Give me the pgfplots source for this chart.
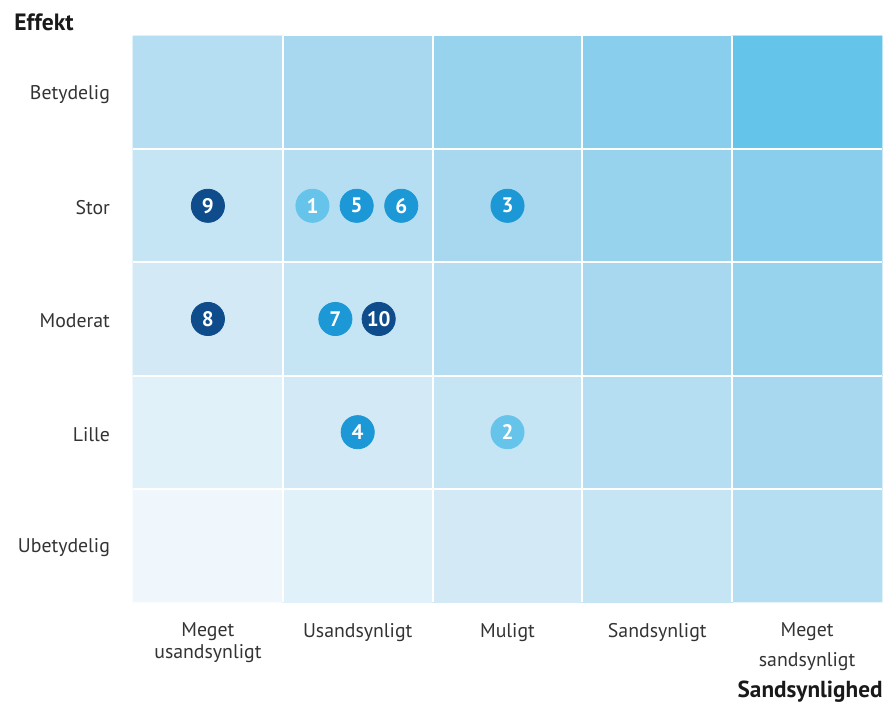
\documentclass[border=0pt]{standalone}
\usepackage{fontspec}
\setmainfont{PT Sans}
\usepackage{pgfplots}
\pgfplotsset{compat=1.18}
\usetikzlibrary{calc}
\definecolor{navy}{HTML}{0F4C8C}
\definecolor{midblue}{HTML}{1B98D5}
\definecolor{lightb}{HTML}{66C4EA}
\definecolor{labelc}{HTML}{333333}
\begin{document}
\begin{tikzpicture}
\begin{axis}[
  scale only axis, width=374.5pt, height=283pt,
  xmin=-0.5, xmax=4.5, ymin=-0.5, ymax=4.5,
  enlargelimits=false,
  axis line style={draw=none},
  major tick length=0pt, minor tick length=0pt,
  xtick={0,1,2,3,4}, ytick={0,1,2,3,4},
  xticklabels={{Meget\\usandsynligt},Usandsynligt,Muligt,Sandsynligt,{Meget\\[4pt]sandsynligt}},
  yticklabels={Ubetydelig,Lille,Moderat,Stor,Betydelig},
  xticklabel style={align=center, font=\fontsize{9.9}{11}\selectfont, text=labelc, yshift=-7pt},
  yticklabel style={font=\fontsize{9.9}{11}\selectfont, text=labelc, xshift=-8pt, yshift=-1pt},
  minor xtick={0.5,1.5,2.5,3.5}, minor ytick={0.5,1.5,2.5,3.5},
  minor grid style={white, line width=1pt},
  xminorgrids, yminorgrids,
  axis on top,
  colormap={cells}{rgb255=(239,247,252) rgb255=(225,241,249) rgb255=(211,234,246) rgb255=(197,229,245) rgb255=(182,222,242) rgb255=(167,216,240) rgb255=(152,211,238) rgb255=(137,207,237) rgb255=(100,196,234)},
  colormap access=direct,
  clip=false,
]
\addplot[matrix plot*, mesh/cols=5, point meta=explicit] table[meta=c] {
x y c
0 0 0
1 0 1
2 0 2
3 0 3
4 0 4
0 1 1
1 1 2
2 1 3
3 1 4
4 1 5
0 2 2
1 2 3
2 2 4
3 2 5
4 2 6
0 3 3
1 3 4
2 3 5
3 3 6
4 3 7
0 4 4
1 4 5
2 4 6
3 4 7
4 4 8
};
\pgfplotsset{circ/.style={only marks, mark=*, mark size=8.3pt, nodes near coords=\lbl,
  visualization depends on={value \thisrow{n}\as\lbl},
  nodes near coords style={anchor=center, text=white, inner sep=0pt, font=\bfseries\fontsize{10.5}{10.5}\selectfont}}}
\addplot[circ, color=navy] table {
x y n
0 3 9
0 2 8
1.14 2 10
};
\addplot[circ, color=midblue] table {
x y n
0.993 3 5
1.291 3 6
0.851 2 7
2 3 3
1 1 4
};
\addplot[circ, color=lightb] table {
x y n
0.698 3 1
2 1 2
};
\node[anchor=west, inner sep=0pt, font=\bfseries\fontsize{11.8}{12}\selectfont, text=black!90] at (rel axis cs:0,1) [xshift=-59.5pt, yshift=7pt] {Effekt};
\node[anchor=east, inner sep=0pt, font=\bfseries\fontsize{11.6}{12}\selectfont, text=black!90] at (rel axis cs:1,0) [xshift=0.5pt, yshift=-45pt] {Sandsynlighed};
\end{axis}
\pgfresetboundingbox
\path ($(current axis.south west)+(-66.5pt,-50.5pt)$) rectangle ($(current axis.north east)+(2.5pt,18pt)$);
\end{tikzpicture}
\end{document}
